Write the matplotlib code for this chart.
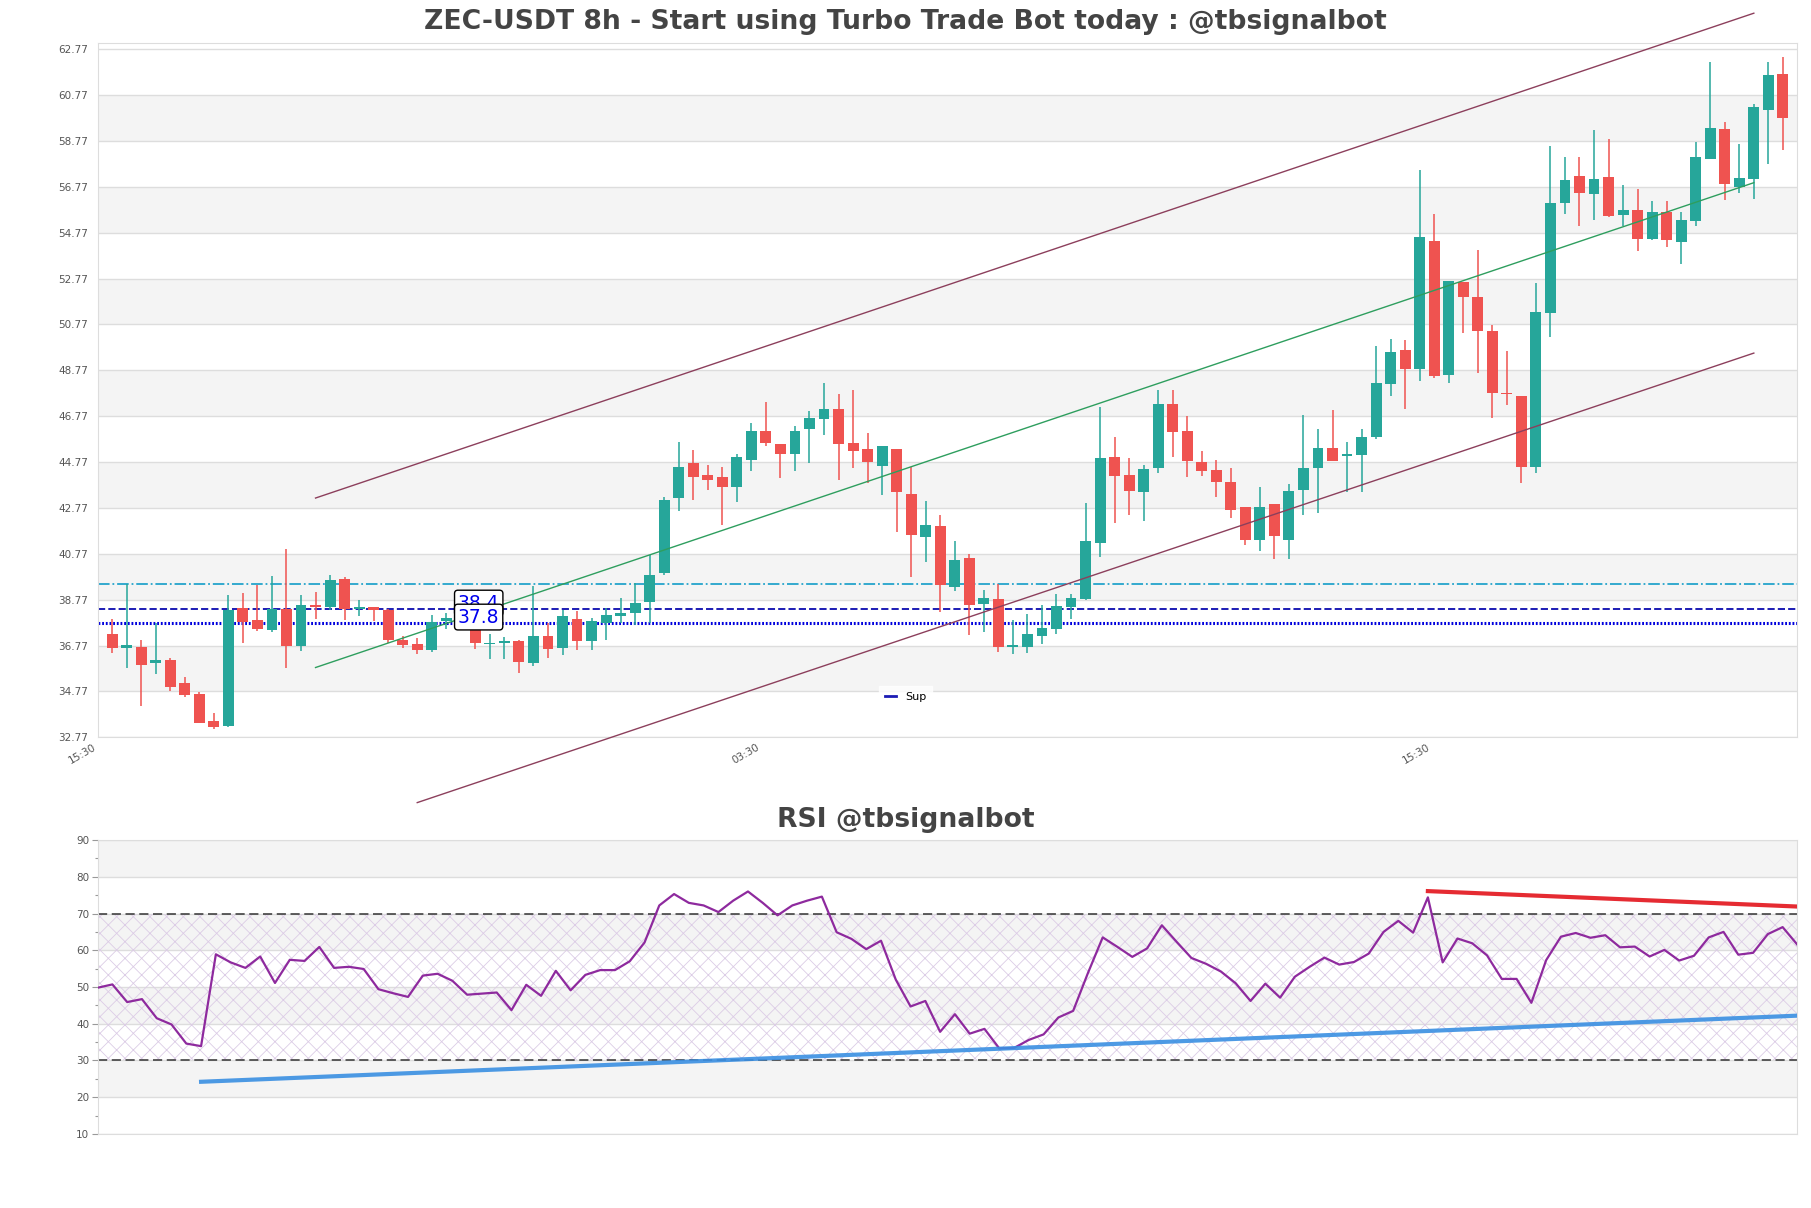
import matplotlib
matplotlib.use("Agg")
import matplotlib.pyplot as plt
from matplotlib.ticker import MultipleLocator
import numpy as np

# velas 8h (open, high, low, close)
opens = [37.26, 36.67, 36.70, 36.02, 36.13, 35.13, 34.65, 33.48, 33.28, 38.42,
         37.87, 37.45, 38.38, 36.76, 38.55, 38.44, 39.65, 38.38, 38.47, 38.33,
         37.00, 36.83, 36.57, 37.84, 37.90, 37.58, 36.84, 36.86, 36.96, 36.02,
         37.20, 36.67, 37.91, 36.97, 37.76, 38.07, 38.19, 38.67, 39.93, 43.19,
         44.74, 44.20, 44.12, 43.67, 44.87, 46.13, 45.55, 45.10, 46.23, 46.63,
         47.09, 45.58, 45.35, 44.61, 45.35, 43.38, 41.49, 42.00, 39.32, 40.60,
         38.57, 38.81, 36.71, 36.71, 37.18, 37.47, 38.45, 38.81, 41.23, 45.00,
         44.22, 43.45, 44.49, 47.32, 46.13, 44.79, 44.44, 43.92, 42.79, 41.39,
         42.92, 41.39, 43.54, 44.49, 45.36, 45.03, 45.07, 45.88, 48.16, 49.66,
         48.82, 54.41, 48.56, 52.62, 51.98, 50.49, 47.80, 47.65, 44.54, 51.26,
         56.06, 57.25, 56.45, 57.19, 55.56, 55.76, 54.48, 55.68, 54.37, 55.30,
         57.97, 59.28, 56.78, 57.12, 60.10, 61.69]
highs = [37.94, 39.47, 37.00, 37.77, 36.22, 35.39, 34.76, 33.84, 38.99, 39.06,
         39.39, 39.78, 40.99, 38.99, 39.09, 39.86, 39.77, 38.77, 38.47, 38.36,
         37.18, 37.10, 38.12, 38.19, 38.00, 37.80, 37.29, 37.15, 37.00, 39.35,
         37.76, 38.31, 38.26, 37.99, 38.41, 38.86, 39.51, 40.70, 43.23, 45.65,
         45.30, 44.65, 44.57, 45.13, 46.48, 47.39, 45.55, 46.35, 47.00, 48.23,
         47.73, 47.91, 46.04, 45.48, 45.35, 44.57, 43.09, 42.47, 41.34, 40.74,
         39.18, 39.47, 37.90, 38.16, 38.52, 39.00, 39.03, 43.00, 47.15, 45.87,
         44.94, 44.64, 47.91, 47.91, 46.78, 45.27, 44.88, 44.49, 42.79, 43.66,
         42.92, 43.83, 46.80, 46.19, 47.02, 45.64, 46.22, 49.83, 50.12, 50.07,
         57.51, 55.59, 52.67, 52.62, 54.00, 50.75, 49.59, 47.65, 52.57, 58.57,
         58.06, 58.07, 59.25, 58.85, 56.84, 56.68, 56.13, 56.16, 55.68, 58.74,
         62.22, 59.59, 58.63, 60.39, 62.22, 62.45]
lows = [36.45, 35.81, 34.15, 35.52, 34.80, 34.54, 33.38, 33.12, 33.23, 36.89,
        37.41, 37.34, 35.81, 36.54, 37.93, 38.31, 37.87, 38.07, 37.82, 36.86,
        36.64, 36.39, 36.49, 37.47, 37.50, 36.60, 36.16, 36.16, 35.58, 35.89,
        36.23, 36.35, 36.57, 36.57, 37.00, 37.76, 37.68, 37.76, 39.86, 42.65,
        43.13, 43.57, 42.04, 43.02, 44.39, 45.45, 44.06, 44.39, 44.71, 45.94,
        43.99, 44.49, 43.86, 43.32, 41.74, 39.76, 40.41, 38.23, 39.15, 37.22,
        37.36, 36.49, 36.39, 36.45, 36.83, 37.26, 37.94, 38.74, 40.65, 42.10,
        42.48, 42.19, 44.28, 44.97, 44.13, 44.18, 43.24, 42.31, 41.14, 40.91,
        40.56, 40.56, 42.48, 42.53, 44.81, 43.46, 43.46, 45.78, 47.65, 47.10,
        48.32, 48.42, 48.21, 50.39, 48.67, 46.68, 47.26, 43.87, 44.31, 50.24,
        55.58, 55.08, 55.33, 55.47, 55.04, 53.99, 54.45, 54.16, 53.39, 55.04,
        57.97, 56.20, 56.52, 56.23, 57.76, 58.38]
closes = [36.64, 36.78, 35.91, 36.12, 34.97, 34.62, 33.41, 33.23, 38.31, 37.80,
          37.48, 38.34, 36.76, 38.55, 38.45, 39.61, 38.36, 38.44, 38.32, 37.00,
          36.78, 36.57, 37.81, 37.96, 37.60, 36.86, 36.86, 36.96, 36.06, 37.20,
          36.62, 38.05, 36.97, 37.83, 38.12, 38.19, 38.64, 39.86, 43.13, 44.57,
          44.13, 43.97, 43.70, 45.00, 46.13, 45.62, 45.10, 46.13, 46.68, 47.09,
          45.55, 45.23, 44.75, 45.48, 43.48, 41.57, 42.04, 39.39, 40.52, 38.52,
          38.86, 36.71, 36.81, 37.25, 37.52, 38.49, 38.86, 41.31, 44.94, 44.15,
          43.49, 44.48, 47.32, 46.10, 44.83, 44.37, 43.89, 42.67, 41.39, 42.83,
          41.54, 43.49, 44.49, 45.40, 44.81, 45.13, 45.88, 48.22, 49.57, 48.82,
          54.59, 48.53, 52.67, 51.98, 50.50, 47.80, 47.74, 44.57, 51.30, 56.07,
          57.06, 56.48, 57.10, 55.50, 55.76, 54.51, 55.68, 54.43, 55.33, 58.08,
          59.34, 56.88, 57.16, 60.27, 61.65, 59.79]

rsi = [49.8, 50.7, 45.9, 46.7, 41.5, 39.8, 34.6, 33.9, 58.9, 56.7,
       55.2, 58.3, 51.1, 57.4, 57.1, 60.9, 55.2, 55.5, 54.9, 49.4,
       48.3, 47.3, 53.1, 53.6, 51.7, 47.9, 48.2, 48.5, 43.7, 50.6,
       47.6, 54.4, 49.1, 53.3, 54.6, 54.6, 57.0, 62.1, 72.2, 75.3,
       72.9, 72.2, 70.4, 73.5, 76.0, 72.9, 69.5, 72.2, 73.5, 74.6,
       64.9, 63.1, 60.3, 62.6, 52.0, 44.7, 46.2, 37.8, 42.6, 37.3,
       38.6, 33.3, 33.4, 35.6, 37.1, 41.7, 43.5, 53.8, 63.5, 60.9,
       58.2, 60.5, 66.8, 62.3, 57.9, 56.3, 54.2, 51.0, 46.2, 50.9,
       47.1, 52.8, 55.5, 58.0, 56.1, 56.8, 59.1, 65.0, 68.0, 64.8,
       74.4, 56.7, 63.2, 61.9, 58.6, 52.2, 52.2, 45.7, 57.3, 63.7,
       64.7, 63.4, 64.1, 60.8, 61.0, 58.3, 60.1, 57.2, 58.5, 63.5,
       65.0, 58.8, 59.3, 64.4, 66.3, 61.5]

# canal de tendência (índice da vela, preço)
canal_x = [14, 113]
canal_sup = [43.20, 64.34]
canal_meio = [35.81, 56.95]
canal_inf_x = [21, 113]
canal_inf = [29.92, 49.52]

# níveis horizontais
nivel_res = 39.47
nivel_sup1 = 38.38
nivel_sup2 = 37.77
rotulos = ["38.4", "37.8"]

# linhas de tendência do RSI
rsi_res_x = [90, 115]
rsi_res_y = [76.1, 71.9]
rsi_sup_x = [7, 115]
rsi_sup_y = [24.2, 42.2]

xticks_pos = [-1, 44.65, 90.8]
xticks_lab = ["15:30", "03:30", "15:30"]

verde = "#26a69a"
vermelho = "#ef5350"
cinza_txt = "#555555"
grade = "#dddddd"
faixa = "#f4f4f4"

plt.rcParams["hatch.linewidth"] = 0.6

fig = plt.figure(figsize=(18.11, 12.08), dpi=100)
ax = fig.add_axes([0.0539, 0.3897, 0.9386, 0.5745])
ax2 = fig.add_axes([0.0539, 0.0613, 0.9386, 0.2433])

n = len(opens)
x = np.arange(n)
o = np.array(opens)
c = np.array(closes)
cores = [verde if c[i] >= o[i] else vermelho for i in range(n)]

# faixas de fundo
yticks = np.arange(32.77, 63.0, 2.0)
for i in range(len(yticks) - 1):
    if i % 2 == 1:
        ax.axhspan(yticks[i], yticks[i + 1], color=faixa, zorder=0, lw=0)
for yt in yticks:
    ax.axhline(yt, color=grade, lw=1, zorder=0.5)

# velas
ax.vlines(x, lows, highs, colors=cores, lw=1.1, zorder=3)
corpo = np.maximum(np.abs(c - o), 0.05)
ax.bar(x, corpo, bottom=np.minimum(o, c), width=0.75, color=cores, zorder=3)

# canal
ax.plot(canal_x, canal_sup, color="#8c3f5c", lw=1, clip_on=False, zorder=4)
ax.plot(canal_x, canal_meio, color="#2e9e5e", lw=1, clip_on=False, zorder=4)
ax.plot(canal_inf_x, canal_inf, color="#8c3f5c", lw=1, clip_on=False, zorder=4)

# níveis
ax.axhline(nivel_res, color="#24a4cc", lw=1.3, ls="-.", zorder=2)
ax.axhline(nivel_sup1, color="#1c1cb4", lw=1.4, ls="--", zorder=2, label="Sup")
ax.axhline(nivel_sup2, color="#0000dd", lw=2.2, ls=(0, (0.6, 0.6)), zorder=2)

caixa = dict(boxstyle="round,pad=0.18", fc="white", ec="black", lw=1)
ax.text(23.8, nivel_sup1, rotulos[0], color="#0000ee", fontsize=13.5, bbox=caixa, zorder=6)
ax.text(23.8, nivel_sup2, rotulos[1], color="#0000ee", fontsize=13.5, bbox=caixa, zorder=7)

ax.set_xlim(-1, n)
ax.set_ylim(32.77, 63.03)
ax.set_yticks(yticks)
ax.set_yticklabels(["%.2f" % v for v in yticks])
ax.set_xticks(xticks_pos)
ax.set_xticklabels(xticks_lab, rotation=30, ha="right")
ax.tick_params(axis="both", length=0, labelsize=7.5, labelcolor=cinza_txt)
ax.tick_params(axis="y", pad=7)
for s in ax.spines.values():
    s.set_color(grade)

leg = ax.legend(loc="center", bbox_to_anchor=(0.5, 0.4234), bbox_transform=fig.transFigure,
                fontsize=8, handlelength=1.0, handletextpad=0.8, frameon=True,
                fancybox=False, borderpad=0.5)
leg.get_frame().set_edgecolor("white")
leg.get_frame().set_facecolor("white")
for h in leg.legend_handles:
    h.set_linestyle("-")
    h.set_linewidth(2)

# RSI
for a, b in [(80, 90), (60, 70), (40, 50), (20, 30)]:
    ax2.axhspan(a, b, color=faixa, zorder=0, lw=0)
for yt in range(10, 91, 10):
    ax2.axhline(yt, color=grade, lw=1, zorder=0.5)
ax2.fill_between([0, n - 1], 30, 70, facecolor="none", edgecolor="#dccce6",
                 hatch="xx", lw=0, zorder=1)
ax2.axhline(70, color="#333333", lw=1.1, ls=(0, (6, 3)), zorder=2)
ax2.axhline(30, color="#333333", lw=1.1, ls=(0, (6, 3)), zorder=2)
ax2.plot(x, rsi, color="#8e2a9e", lw=1.6, zorder=3)
ax2.plot(rsi_res_x, rsi_res_y, color="#e3141c", lw=3, alpha=0.9, zorder=4)
ax2.plot(rsi_sup_x, rsi_sup_y, color="#3a8fe2", lw=3, alpha=0.9, zorder=4)

ax2.set_xlim(0, n - 1)
ax2.set_ylim(10, 90)
ax2.set_yticks(range(10, 91, 10))
ax2.yaxis.set_minor_locator(MultipleLocator(5))
ax2.set_xticks([])
ax2.tick_params(axis="y", which="major", length=4, width=0.8, color="#999999",
                labelsize=7.5, labelcolor=cinza_txt, pad=2)
ax2.tick_params(axis="y", which="minor", length=2, width=0.8, color="#999999")
for s in ax2.spines.values():
    s.set_color(grade)

fig.text(0.5, 1 - 22 / 1208, "ZEC-USDT 8h - Start using Turbo Trade Bot today : @tbsignalbot",
         ha="center", va="center", fontsize=19.2, fontweight="bold", color="#444444")
fig.text(0.5, 1 - 820 / 1208, "RSI @tbsignalbot",
         ha="center", va="center", fontsize=19.2, fontweight="bold", color="#444444")

fig.savefig("out.png", dpi=100)
